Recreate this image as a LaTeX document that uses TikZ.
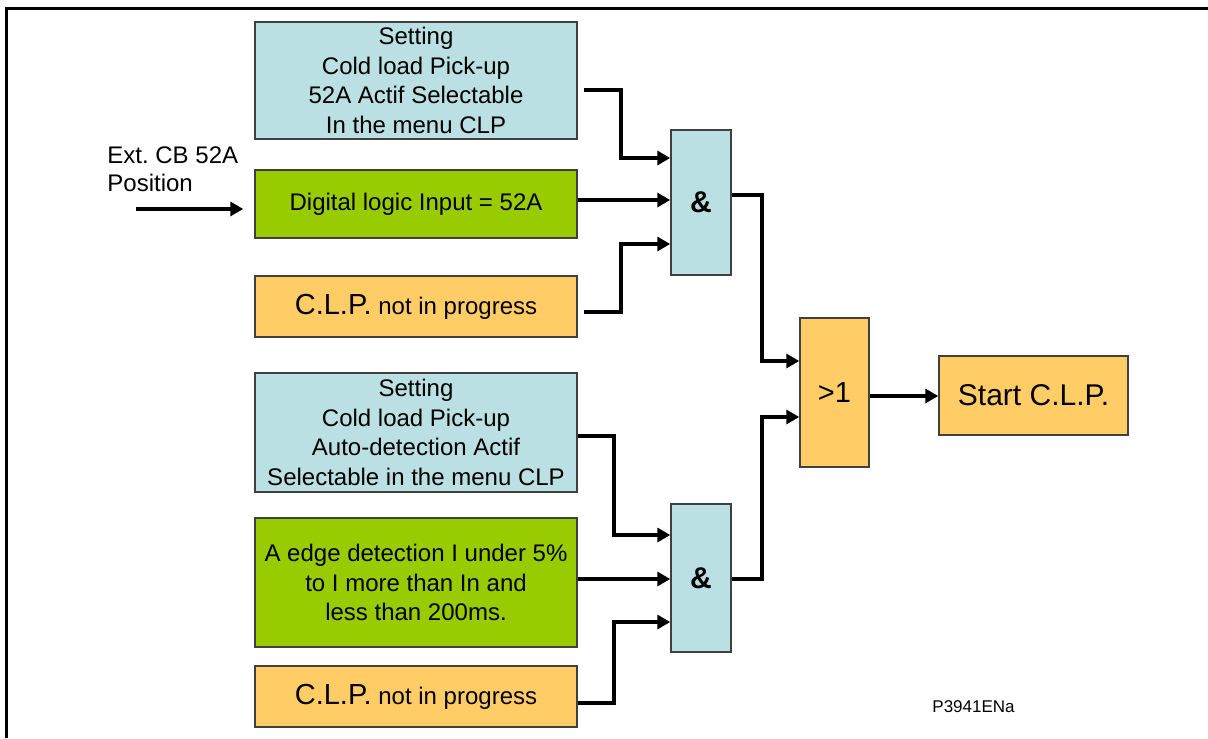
\documentclass[tikz,border=0pt]{standalone}
\usepackage{fontspec}
\setmainfont{Liberation Sans}
\frenchspacing
\usetikzlibrary{arrows.meta,calc}
\definecolor{lblue}{RGB}{187,224,227}
\definecolor{lgreen}{RGB}{153,204,0}
\definecolor{lorange}{RGB}{255,204,102}
\begin{document}
\begin{tikzpicture}[x=0.5pt,y=-0.5pt,
  box/.style={draw=black!75, line width=0.75pt, inner sep=0pt, align=center,
    font=\fontsize{12}{14.75}\selectfont},
  conn/.style={line width=2pt, -{Triangle[length=6.5pt,width=7pt]}},
  big/.style={font=\fontsize{14.5}{17}\selectfont}]
\useasboundingbox (0,0) rectangle (1208,738);
% frame
\draw[line width=1.5pt] (6.5,738) -- (6.5,8.5) -- (1208,8.5);
% input boxes
\node[box, fill=lblue, minimum width=161pt, minimum height=58.5pt] (b1) at (416,80.5)
  {Setting\\Cold load Pick-up\\52A Actif Selectable\\In the menu CLP};
\node[box, fill=lgreen, minimum width=161pt, minimum height=34pt] (b2) at (416,204)
  {\raisebox{-1.5pt}{Digital logic Input = 52A}};
\node[box, fill=lorange, minimum width=161pt, minimum height=30.5pt] (b3) at (416,306.5)
  {{\fontsize{14.5}{17}\selectfont C.L.P.} not in progress};
\node[box, fill=lblue, minimum width=161pt, minimum height=59.5pt] (b4) at (416,432.5)
  {Setting\\Cold load Pick-up\\Auto-detection Actif\\Selectable in the menu CLP};
\node[box, fill=lgreen, minimum width=161pt, minimum height=64.5pt] (b5) at (416,582.5)
  {A edge detection I under 5\%\\to I more than In and\\less than 200ms.};
\node[box, fill=lorange, minimum width=161pt, minimum height=30.5pt] (b6) at (416,696.5)
  {{\fontsize{14.5}{17}\selectfont C.L.P.} not in progress};
% gates
\node[box, fill=lblue, minimum width=30pt, minimum height=72.5pt, font=\fontsize{15}{17}\selectfont\bfseries] (a1) at (701,202.5) {\&};
\node[box, fill=lblue, minimum width=30pt, minimum height=74pt, font=\fontsize{15}{17}\selectfont\bfseries] (a2) at (701,578) {\&};
\node[box, fill=lorange, minimum width=34.5pt, minimum height=74.5pt, font=\fontsize{14.5}{17}\selectfont] (g3) at (834.5,392.5) {>1};
\node[box, fill=lorange, minimum width=94.5pt, minimum height=39.5pt, font=\fontsize{15}{17}\selectfont] (st) at (1033.5,395.5) {Start C.L.P.};
% labels
\node[anchor=west, align=left, inner sep=0pt, font=\fontsize{12}{14}\selectfont] (extlbl) at (107,169) {Ext. CB 52A\\Position};
\node[anchor=west, inner sep=0pt, font=\fontsize{8.5}{10}\selectfont] (code) at (932,707) {P3941ENa};
\coordinate (ext) at (136,209);
% connectors
\draw[conn, shorten >=5.5pt] (ext) -- (b2.west |- 0,209);
\draw[conn] ($(b1.east |- 0,90)+(6,0)$) -- (621,90) -- (621,158) -- (a1.west |- 0,158);
\draw[conn] (b2.east |- 0,200) -- (a1.west |- 0,200);
\draw[conn] ($(b3.east |- 0,312)+(6,0)$) -- (621,312) -- (621,244) -- (a1.west |- 0,244);
\draw[conn] (a1.east |- 0,195) -- (762,195) -- (762,361) -- (g3.west |- 0,361);
\draw[conn] (b4.east |- 0,436) -- (614,436) -- (614,535) -- (a2.west |- 0,535);
\draw[conn] (b5.east |- 0,579) -- (a2.west |- 0,579);
\draw[conn] (b6.east |- 0,703) -- (614,703) -- (614,622) -- (a2.west |- 0,622);
\draw[conn] (a2.east |- 0,579) -- (762,579) -- (762,417) -- (g3.west |- 0,417);
\draw[conn] (g3.east |- 0,396) -- (st.west |- 0,396);
\end{tikzpicture}
\end{document}
